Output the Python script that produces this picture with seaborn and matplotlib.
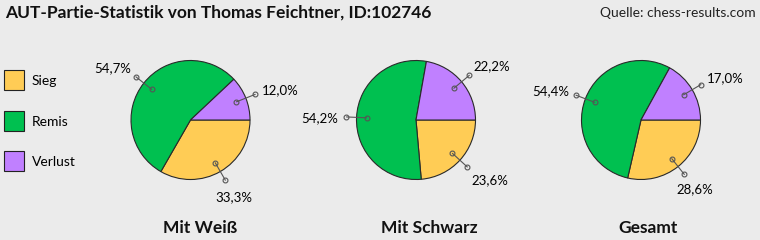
import numpy as np
import pandas as pd
import matplotlib
matplotlib.use("Agg")
import matplotlib.pyplot as plt
import seaborn as sns
from matplotlib.patches import Rectangle

# ---- data ----
categories = ["Sieg", "Remis", "Verlust"]
groups = ["Mit Weiß", "Mit Schwarz", "Gesamt"]
mit_weiss = [33.3, 54.7, 12.0]
mit_schwarz = [23.6, 54.2, 22.2]
gesamt = [28.6, 54.4, 17.0]
colors_hex = ["#FFCC55", "#00C050", "#C080FF"]
title = "AUT-Partie-Statistik von Thomas Feichtner, ID:102746"
source = "Quelle: chess-results.com"

BG = "#EBEBEB"
sns.set_theme(style="white", rc={"figure.facecolor": BG, "axes.facecolor": BG})
plt.rcParams["font.family"] = ["Lato", "DejaVu Sans"]
palette = sns.color_palette(colors_hex)

W, H = 760, 240
fig = plt.figure(figsize=(W / 100, H / 100), dpi=100)
ax = fig.add_axes([0, 0, 1, 1])

centers_x = [190.5, 416, 641]
title_x = [200, 429, 648]
cy = 120
r = 59.5
series = [mit_weiss, mit_schwarz, gesamt]

def fmt(v):
    return f"{v:.1f}%".replace(".", ",")

for cx, tx, vals, g in zip(centers_x, title_x, series, groups):
    ax.pie(vals, colors=palette, startangle=0, counterclock=True,
           center=(cx, cy), radius=r, frame=True,
           wedgeprops=dict(edgecolor="#2a2a2a", linewidth=0.8))
    cum = 0.0
    for v in vals:
        th = np.deg2rad((cum + v / 2) / 100 * 360)
        cum += v
        d = np.array([np.cos(th), np.sin(th)])
        p1 = np.array([cx, cy]) + 0.83 * r * d
        p2 = np.array([cx, cy]) + 1.17 * r * d
        ax.plot([p1[0], p2[0]], [p1[1], p2[1]], color="#555555", lw=0.8,
                marker="o", ms=3.5, mfc="none", mec="#555555", mew=0.8, zorder=5)
        dx = 10 * np.sign(d[0]) if abs(d[0]) > 0.7 else 0
        t = np.array([cx, cy]) + 1.45 * r * d + np.array([dx, 2])
        ax.text(t[0], t[1], fmt(v), ha="center", va="center", fontsize=9.5,
                color="#000000")
    ax.text(tx, 228, g, ha="center", va="center", fontsize=12.5,
            fontweight="bold", color="#111111")

# legend
leg_y = [80, 121, 161]
for cat, col, y in zip(categories, palette, leg_y):
    ax.add_patch(Rectangle((4, y - 10), 20, 20, facecolor=col,
                           edgecolor="#222222", linewidth=0.8))
    ax.text(32, y + 1, cat, ha="left", va="center", fontsize=10, color="#000000")

ax.text(5, 13, title, ha="left", va="center", fontsize=12.5,
        fontweight="bold", color="#111111")
ax.text(756, 13, source, ha="right", va="center", fontsize=10, color="#222222")

ax.set_xlim(0, W)
ax.set_ylim(H, 0)
ax.set_aspect("auto")
ax.axis("off")
fig.savefig("out.png", dpi=100, facecolor=BG)
